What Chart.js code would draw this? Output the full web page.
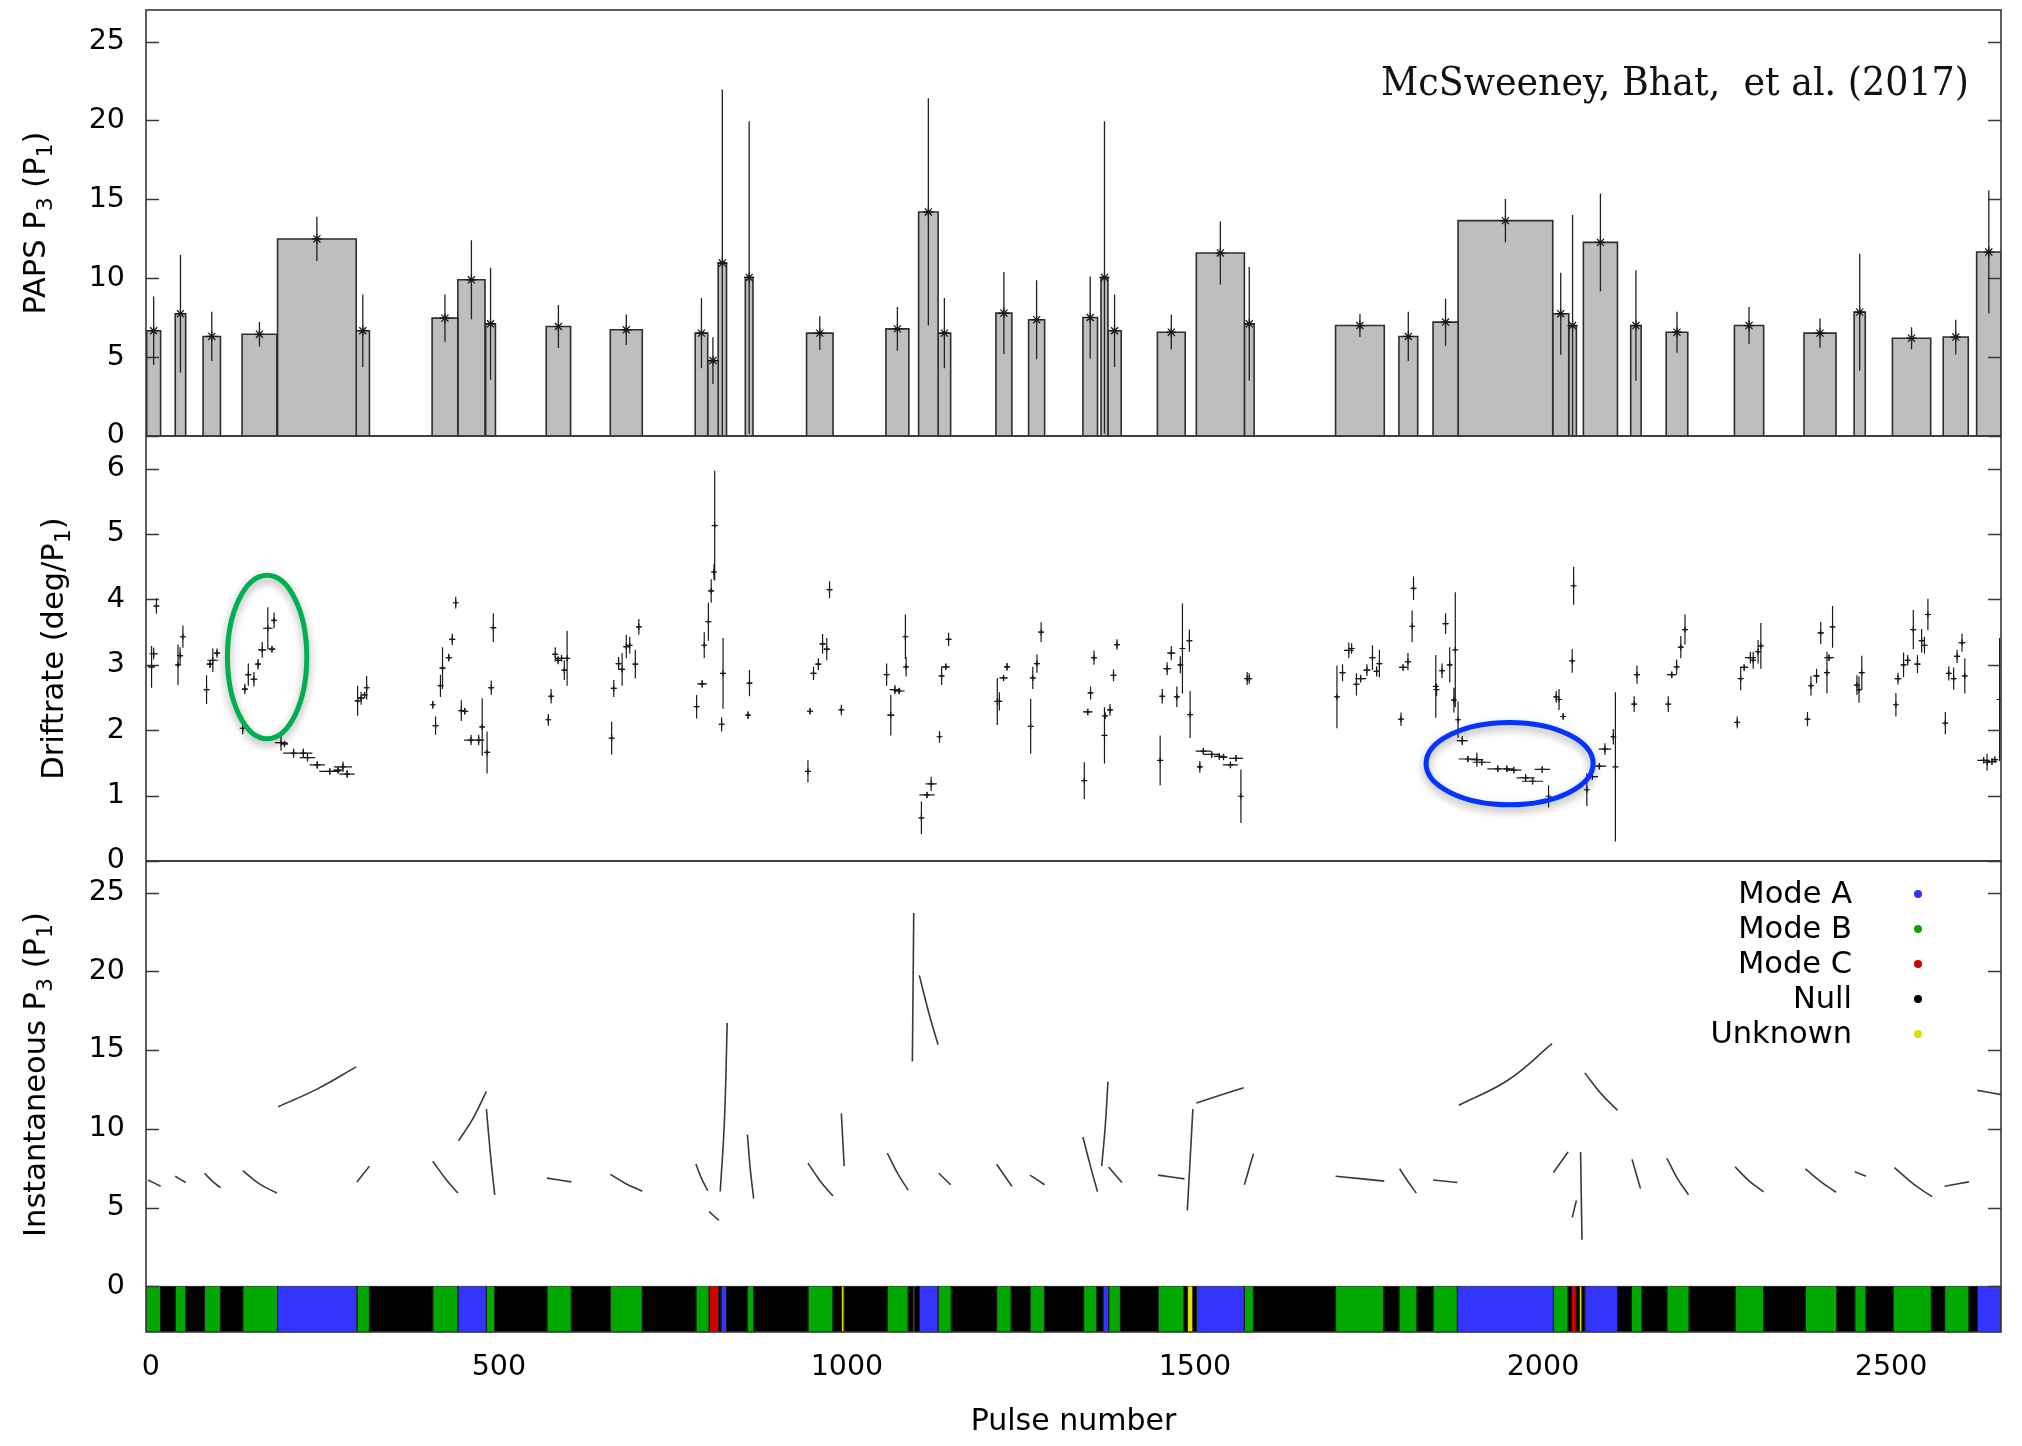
<!DOCTYPE html>
<html>
<head>
<meta charset="utf-8">
<title>PAPS P3, driftrate and instantaneous P3 versus pulse number</title>
<script src="https://cdn.jsdelivr.net/npm/chart.js@4.4.1/dist/chart.umd.min.js"></script>
<style>
  html, body { margin: 0; padding: 0; background: #ffffff; }
  #stack { position: relative; width: 2022px; height: 1446px; }
  #stack canvas { position: absolute; left: 0; top: 0; width: 2022px; height: 1446px; }
</style>
</head>
<body>
<div id="stack">
  <canvas id="papsPanel" width="2022" height="1446"></canvas>
  <canvas id="driftPanel" width="2022" height="1446"></canvas>
  <canvas id="instPanel" width="2022" height="1446"></canvas>
</div>
<script>
// ---------------- shared pulse-number axis ----------------
const pulseRange = [-7, 2658];
const pulseTicks = [0, 500, 1000, 1500, 2000, 2500];

// ---------------- PAPS P3 per stretch ----------------
const papsStart = [-6, 35, 75, 131, 182, 295, 404, 441, 481, 568, 660, 782, 800, 815, 854, 942, 1056, 1103, 1131, 1214, 1261, 1339, 1365, 1375, 1446, 1502, 1571, 1702, 1793, 1842, 1878, 2014, 2037, 2058, 2126, 2177, 2275, 2375, 2447, 2502, 2575, 2623];
const papsEnd   = [14, 50, 100, 181, 295, 314, 441, 480, 495, 603, 706, 800, 815, 827, 865, 980, 1089, 1131, 1149, 1237, 1284, 1360, 1375, 1394, 1486, 1571, 1585, 1772, 1820, 1878, 2014, 2037, 2048, 2107, 2141, 2208, 2317, 2421, 2463, 2557, 2611, 2658];
const papsP3    = [6.67, 7.75, 6.31, 6.45, 12.49, 6.67, 7.47, 9.9, 7.11, 6.94, 6.73, 6.52, 4.78, 10.96, 10.05, 6.52, 6.79, 14.2, 6.52, 7.79, 7.37, 7.51, 10.05, 6.67, 6.58, 11.6, 7.11, 7.0, 6.31, 7.22, 13.65, 7.75, 7.0, 12.27, 7.0, 6.58, 7.0, 6.52, 7.85, 6.2, 6.27, 11.66];
const papsErr   = [2.17, 3.73, 1.56, 0.78, 1.4, 2.3, 1.5, 2.5, 3.55, 1.37, 0.97, 2.22, 1.48, 11.0, 9.9, 1.07, 1.38, 7.2, 2.22, 2.6, 2.5, 2.6, 9.9, 2.3, 1.1, 2.0, 3.6, 0.73, 1.56, 1.5, 1.37, 2.6, 7.0, 3.1, 3.5, 1.3, 1.17, 0.93, 3.7, 0.7, 1.1, 3.9];
const papsTicks = [0, 5, 10, 15, 20, 25];

// ---------------- driftrate: [pulse, driftrate, driftrate error, pulse half-width] ----------------
const driftRows = [
  [1,2.97,0.32,5],[4,3.17,0.09,6],[8,3.9,0.12,4],[39,3.0,0.31,3],[42,3.14,0.13,4],[46,3.43,0.17,3],[80,2.62,0.22,3],[85,3.01,0.06,5],[89,3.07,0.18,8],[95,3.18,0.07,4],
  [132,2.03,0.09,2],[135,2.63,0.08,4],[140,2.85,0.17,4],[148,2.78,0.11,5],[154,3.01,0.08,4],[160,3.23,0.12,6],[168,3.56,0.32,7],[174,3.24,0.05,5],[177,3.68,0.12,3],
  [187,1.81,0.12,9],[192,1.79,0.05,5],[205,1.65,0.07,15],[219,1.65,0.07,13],[225,1.58,0.06,11],[239,1.47,0.06,11],[257,1.37,0.05,15],[269,1.39,0.06,7],[276,1.44,0.08,13],[282,1.33,0.06,11],
  [297,2.45,0.23,3],[302,2.49,0.1,4],[307,2.54,0.05,3],[310,2.65,0.18,3],
  [405,2.39,0.06,2],[409,2.07,0.14,4],[416,2.68,0.17,3],[419,2.95,0.32,4],[428,3.11,0.06,4],[433,3.39,0.09,4],[438,3.95,0.09,2],[446,2.3,0.16,3],[451,2.29,0.05,5],[460,1.85,0.08,10],[471,1.85,0.08,8],[476,2.05,0.44,3],[483,1.66,0.32,3],[489,2.65,0.11,4],[492,3.57,0.22,3],
  [571,2.16,0.09,2],[575,2.52,0.11,4],[581,3.16,0.11,4],[585,3.07,0.06,5],[590,3.1,0.05,10],[594,2.92,0.15,3],[598,3.1,0.42,3],
  [662,1.88,0.25,2],[665,2.64,0.13,4],[672,3.02,0.1,4],[677,2.93,0.25,4],[683,3.28,0.18,4],[688,3.3,0.13,3],[696,3.01,0.22,3],[701,3.58,0.12,3],
  [784,2.36,0.18,2],[792,2.71,0.06,7],[795,3.3,0.2,2],[801,3.66,0.29,2],[805,4.13,0.18,4],[809,4.42,0.12,3],[810,5.13,0.84,1],[820,2.09,0.11,3],[822,2.87,0.54,2],[858,2.23,0.06,3],[860,2.72,0.2,3],
  [944,1.37,0.17,2],[947,2.29,0.05,4],[952,2.87,0.1,4],[959,3.01,0.09,4],[965,3.32,0.15,4],[971,3.24,0.17,4],[975,4.15,0.13,3],[992,2.31,0.08,2],
  [1057,2.85,0.17,2],[1063,2.23,0.31,5],[1069,2.62,0.07,8],[1075,2.6,0.05,8],[1084,3.43,0.34,2],[1085,2.97,0.15,2],
  [1107,0.66,0.25,2],[1115,1.01,0.05,11],[1121,1.18,0.11,8],[1133,1.9,0.09,2],[1136,2.83,0.14,3],[1142,2.97,0.05,6],[1146,3.39,0.1,3],
  [1216,2.44,0.36,1],[1219,2.44,0.14,3],[1225,2.8,0.05,6],[1230,2.97,0.06,4],[1264,2.06,0.42,1],[1267,2.8,0.17,3],[1273,3.02,0.14,3],[1279,3.5,0.15,3],
  [1341,1.23,0.28,1],[1346,2.28,0.05,7],[1350,2.57,0.1,3],[1355,3.11,0.11,4],[1370,1.92,0.43,1],[1371,2.22,0.05,2],[1378,2.31,0.09,3],[1383,2.84,0.09,3],[1388,3.31,0.08,3],
  [1450,1.54,0.38,1],[1453,2.52,0.11,4],[1460,2.94,0.1,6],[1466,3.18,0.11,6],[1474,2.51,0.16,3],[1479,3.0,0.13,3],[1482,3.25,0.69,1],[1492,3.37,0.17,3],[1493,2.24,0.36,1],
  [1507,1.44,0.09,3],[1512,1.68,0.05,11],[1524,1.63,0.05,11],[1535,1.6,0.05,8],[1541,1.59,0.05,6],[1551,1.47,0.05,11],[1559,1.57,0.05,10],[1566,0.99,0.41,1],[1575,2.79,0.1,3],[1578,2.79,0.08,3],
  [1704,2.51,0.48,2],[1712,2.88,0.13,4],[1721,3.22,0.12,7],[1725,3.25,0.08,4],[1732,2.7,0.17,4],[1738,2.79,0.06,8],[1747,2.92,0.09,5],[1755,3.11,0.19,4],[1761,2.9,0.08,4],[1765,3.02,0.21,3],
  [1796,2.17,0.1,2],[1799,2.96,0.05,6],[1806,3.05,0.13,4],[1812,3.59,0.24,2],[1814,4.17,0.18,2],
  [1846,2.67,0.48,1],[1847,2.62,0.1,2],[1855,2.91,0.11,4],[1860,3.63,0.16,4],[1866,3.0,0.27,3],[1872,2.46,0.19,3],[1874,3.23,0.88,1],[1878,2.16,0.28,2],
  [1884,1.84,0.07,8],[1892,1.56,0.05,13],[1905,1.55,0.11,9],[1912,1.51,0.05,13],[1935,1.41,0.05,15],[1948,1.41,0.05,9],[1958,1.39,0.05,11],[1975,1.27,0.06,13],[1985,1.22,0.05,15],[1999,1.4,0.05,11],[2008,0.99,0.17,1],
  [2019,2.51,0.09,3],[2023,2.47,0.16,3],[2029,2.21,0.05,3],[2042,3.06,0.18,2],[2044,4.21,0.29,2],
  [2063,1.09,0.25,2],[2071,1.29,0.05,8],[2081,1.45,0.05,10],[2089,1.71,0.09,9],[2101,1.9,0.12,3],[2104,1.44,1.14,1],
  [2131,2.4,0.12,3],[2135,2.85,0.14,3],[2180,2.4,0.12,2],[2185,2.85,0.05,7],[2192,2.97,0.11,3],[2198,3.27,0.17,3],[2204,3.54,0.23,2],
  [2279,2.12,0.09,2],[2284,2.79,0.18,2],[2289,2.96,0.05,6],[2298,3.11,0.09,8],[2302,3.07,0.13,3],[2309,3.2,0.18,3],[2313,3.29,0.35,2],
  [2380,2.17,0.11,2],[2385,2.68,0.15,3],[2393,2.83,0.11,4],[2399,3.49,0.17,4],[2408,2.88,0.32,2],[2411,3.11,0.05,7],[2416,3.58,0.32,2],
  [2451,2.69,0.15,3],[2454,2.62,0.2,3],[2458,2.88,0.26,3],
  [2507,2.39,0.18,2],[2510,2.79,0.09,5],[2518,3.0,0.19,3],[2524,3.07,0.08,4],[2532,3.54,0.3,2],[2538,3.01,0.14,4],[2544,3.37,0.18,3],[2548,3.3,0.13,4],[2553,3.77,0.24,2],
  [2578,2.11,0.17,2],[2583,2.87,0.11,3],[2590,2.79,0.17,3],[2595,3.13,0.1,4],[2602,3.34,0.14,5],[2606,2.83,0.27,2],
  [2633,1.54,0.05,9],[2638,1.51,0.13,4],[2645,1.52,0.05,7],[2649,1.55,0.05,5],[2656,2.47,0.94,1]
];
const driftTicks = [0, 1, 2, 3, 4, 5, 6];

// ringed driftrate sequences (centre and half-extent in data units)
const driftHighlights = [
  { pulse: 167,  rate: 3.12, halfPulses: 57,  halfRate: 1.25, colour: '#00b050' },
  { pulse: 1952, rate: 1.49, halfPulses: 120, halfRate: 0.63, colour: '#0433ff' }
];

// ---------------- instantaneous P3 tracks: [pulse, P3] ----------------
const instTracks = [
  [[-4,6.75],[14,6.35]],
  [[35,6.99],[50,6.59]],
  [[77,7.18],[89,6.65],[100,6.26]],
  [[132,7.35],[156,6.5],[181,5.92]],
  [[183,11.4],[240,12.55],[295,13.93]],
  [[296,6.63],[314,7.63]],
  [[405,7.94],[423,6.85],[441,5.92]],
  [[442,9.24],[462,10.6],[482,12.37]],
  [[482,11.26],[488,8.3],[494,5.81]],
  [[569,6.87],[604,6.63]],
  [[660,7.11],[683,6.5],[706,6.04]],
  [[783,7.77],[791,6.85],[800,6.07]],
  [[802,4.74],[816,4.19]],
  [[818,6.02],[824,10.5],[828,16.71]],
  [[857,9.64],[861,7.5],[866,5.57]],
  [[944,7.82],[962,6.66],[980,5.73]],
  [[992,10.97],[996,7.63]],
  [[1058,8.46],[1073,7.15],[1088,6.11]],
  [[1096,23.7],[1094,14.27]],
  [[1104,19.74],[1118,17.3],[1131,15.33]],
  [[1132,7.18],[1149,6.45]],
  [[1215,7.75],[1237,6.35]],
  [[1263,7.06],[1284,6.45]],
  [[1339,9.48],[1350,7.6],[1360,6.0]],
  [[1366,7.63],[1371,10.1],[1375,12.99]],
  [[1376,7.58],[1395,6.59]],
  [[1447,7.06],[1485,6.82]],
  [[1489,4.81],[1493,8.0],[1497,11.26]],
  [[1502,11.64],[1570,12.61]],
  [[1571,6.45],[1584,8.41]],
  [[1702,6.99],[1772,6.68]],
  [[1794,7.46],[1806,6.65],[1818,5.92]],
  [[1842,6.75],[1877,6.59]],
  [[1879,11.49],[1950,13.1],[2013,15.4]],
  [[2015,7.23],[2036,8.53]],
  [[2042,4.38],[2048,5.45]],
  [[2054,8.53],[2056,2.96]],
  [[2060,13.55],[2083,12.25],[2107,11.18]],
  [[2128,8.06],[2140,6.21]],
  [[2178,8.13],[2193,6.85],[2209,5.81]],
  [[2276,7.58],[2296,6.7],[2317,6.0]],
  [[2377,7.46],[2399,6.65],[2421,5.97]],
  [[2448,7.27],[2464,6.99]],
  [[2505,7.54],[2532,6.5],[2559,5.69]],
  [[2577,6.35],[2612,6.63]],
  [[2624,12.44],[2659,12.16]]
];
const instTicks = [0, 5, 10, 15, 20, 25];

// ---------------- emission mode per pulse range: [mode, first pulse, last pulse] ----------------
const modeRuns = [
  ['B',-7,14],['N',14,35],['B',35,50],['N',50,77],['B',77,100],['N',100,132],['B',132,182],['A',182,296],['B',296,314],['N',314,405],
  ['B',405,441],['A',441,482],['B',482,494],['N',494,569],['B',569,604],['N',604,660],['B',660,706],['N',706,783],['B',783,802],['C',802,816],
  ['N',816,819],['A',819,827],['N',827,857],['B',857,866],['N',866,944],['B',944,980],['N',980,992],['U',992,996],['N',996,1058],['B',1058,1088],
  ['N',1088,1095],['U',1095,1097],['N',1097,1104],['A',1104,1131],['B',1131,1150],['N',1150,1215],['B',1215,1236],['N',1236,1263],['B',1263,1284],['N',1284,1340],
  ['B',1340,1359],['N',1359,1368],['A',1368,1376],['B',1376,1393],['N',1393,1447],['B',1447,1484],['N',1484,1489],['U',1489,1497],['N',1497,1502],['A',1502,1571],
  ['B',1571,1584],['N',1584,1702],['B',1702,1771],['N',1771,1793],['B',1793,1819],['N',1819,1842],['B',1842,1877],['A',1877,2015],['B',2015,2036],['N',2036,2041],
  ['C',2041,2048],['N',2048,2052],['U',2052,2056],['N',2056,2060],['A',2060,2107],['N',2107,2127],['B',2127,2142],['N',2142,2178],['B',2178,2210],['N',2210,2276],
  ['B',2276,2317],['N',2317,2377],['B',2377,2422],['N',2422,2448],['B',2448,2464],['N',2464,2503],['B',2503,2558],['N',2558,2577],['B',2577,2612],['N',2612,2624],
  ['A',2624,2658]
];
const modeKeys  = ['A', 'B', 'C', 'N', 'U'];
const modeNames = ['Mode A', 'Mode B', 'Mode C', 'Null', 'Unknown'];

// ---------------- styling ----------------
const modeColour = { A: '#3434ff', B: '#00a800', C: '#d00000', N: '#000000', U: '#e0e000' };
const FONT = '"DejaVu Sans", "Noto Sans", sans-serif';
const TICK_SIZE = 28.5, TITLE_SIZE = 30.5, KEY_SIZE = 30.5;
Chart.defaults.font.family = FONT;
Chart.defaults.font.size = TICK_SIZE;
Chart.defaults.color = '#000000';

// Panel boundaries in canvas pixels
const FRAME = { left: 146, right: 2001, top: 10, cut1: 436, cut2: 861, bottom: 1332, height: 1446, width: 2022 };

// ---------------- plugins ----------------
// gnuplot-like frame with inward, mirrored y tics
const panelFrame = {
  id: 'panelFrame',
  afterDatasetsDraw(chart) {
    const { ctx, chartArea: a } = chart;
    const y = chart.scales.y;
    ctx.save();
    ctx.strokeStyle = '#383838';
    ctx.lineWidth = 1.6;
    ctx.strokeRect(a.left, a.top, a.right - a.left, a.bottom - a.top);
    ctx.lineWidth = 1.4;
    ctx.beginPath();
    y.ticks.forEach(t => {
      const py = Math.round(y.getPixelForValue(t.value)) + 0.5;
      ctx.moveTo(a.left, py); ctx.lineTo(a.left + 13, py);
      ctx.moveTo(a.right, py); ctx.lineTo(a.right - 13, py);
    });
    ctx.stroke();
    ctx.restore();
  }
};

// error bars read from the dataset's yErr / xErr arrays
const errorBars = {
  id: 'errorBars',
  afterDatasetsDraw(chart) {
    const { ctx, chartArea: a, scales: { x, y } } = chart;
    ctx.save();
    ctx.beginPath();
    ctx.rect(a.left, a.top, a.right - a.left, a.bottom - a.top);
    ctx.clip();
    chart.data.datasets.forEach(ds => {
      if (!ds.yErr && !ds.xErr) return;
      ctx.strokeStyle = ds.errColour || '#1a1a1a';
      ctx.lineWidth = ds.errWidth || 1.2;
      ctx.beginPath();
      ds.data.forEach((p, i) => {
        const px = x.getPixelForValue(p.x);
        const py = y.getPixelForValue(p.y);
        if (ds.yErr) {
          ctx.moveTo(px, y.getPixelForValue(p.y - ds.yErr[i]));
          ctx.lineTo(px, y.getPixelForValue(p.y + ds.yErr[i]));
        }
        if (ds.xErr) {
          ctx.moveTo(x.getPixelForValue(p.x - ds.xErr[i]), py);
          ctx.lineTo(x.getPixelForValue(p.x + ds.xErr[i]), py);
        }
      });
      ctx.stroke();
    });
    ctx.restore();
  }
};

// rotated y-axis title with true subscripts
const sideTitle = {
  id: 'sideTitle',
  afterDraw(chart, args, opts) {
    if (!opts.parts) return;
    const { ctx, chartArea: a } = chart;
    const size = TITLE_SIZE, subSize = 22;
    ctx.save();
    ctx.translate(opts.x, (a.top + a.bottom) / 2 + (opts.shift || 0));
    ctx.rotate(-Math.PI / 2);
    ctx.fillStyle = '#000';
    ctx.textBaseline = 'alphabetic';
    ctx.textAlign = 'left';
    const widths = opts.parts.map(([txt, sub]) => {
      ctx.font = (sub ? subSize : size) + 'px ' + FONT;
      return ctx.measureText(txt).width;
    });
    let cx = -widths.reduce((s, w) => s + w, 0) / 2;
    const base = size * 0.36;
    opts.parts.forEach(([txt, sub], i) => {
      ctx.font = (sub ? subSize : size) + 'px ' + FONT;
      ctx.fillText(txt, cx, base + (sub ? 7 : 0));
      cx += widths[i];
    });
    ctx.restore();
  }
};

// citation line in the upper panel
const citation = {
  id: 'citation',
  afterDraw(chart, args, opts) {
    if (!opts.text) return;
    const { ctx, chartArea: a } = chart;
    ctx.save();
    ctx.font = '39px "DejaVu Serif", "Liberation Serif", serif';
    ctx.fillStyle = '#111';
    ctx.textAlign = 'right';
    ctx.textBaseline = 'alphabetic';
    ctx.fillText(opts.text, a.right - 32, a.top + 85, 588);
    ctx.restore();
  }
};

// rings drawn around sequences in data coordinates
const rings = {
  id: 'rings',
  afterDatasetsDraw(chart, args, opts) {
    if (!opts.items) return;
    const { ctx, scales: { x, y } } = chart;
    ctx.save();
    opts.items.forEach(r => {
      const cx = x.getPixelForValue(r.pulse);
      const cy = y.getPixelForValue(r.rate);
      const rx = Math.abs(x.getPixelForValue(r.pulse + r.halfPulses) - cx);
      const ry = Math.abs(y.getPixelForValue(r.rate + r.halfRate) - cy);
      ctx.shadowColor = 'rgba(0,0,0,0.35)';
      ctx.shadowBlur = 9;
      ctx.shadowOffsetY = 4;
      ctx.strokeStyle = r.colour;
      ctx.lineWidth = 5;
      ctx.beginPath();
      ctx.ellipse(cx, cy, rx, ry, 0, 0, Math.PI * 2);
      ctx.stroke();
    });
    ctx.restore();
  }
};

// key for the mode bar (labels right-aligned, coloured dots to the right)
const modeKey = {
  id: 'modeKey',
  afterDraw(chart) {
    const { ctx, chartArea: a } = chart;
    ctx.save();
    ctx.font = KEY_SIZE + 'px ' + FONT;
    ctx.textAlign = 'right';
    ctx.textBaseline = 'middle';
    modeNames.forEach((name, i) => {
      const yy = a.top + 33 + i * 35;
      ctx.fillStyle = '#000';
      ctx.fillText(name, a.right - 149, yy + 1);
      ctx.fillStyle = modeColour[modeKeys[i]];
      ctx.beginPath();
      ctx.arc(a.right - 83, yy, 4, 0, Math.PI * 2);
      ctx.fill();
    });
    ctx.restore();
  }
};

// ---------------- scale builders ----------------
function pulseScale(show) {
  return {
    type: 'linear', min: pulseRange[0], max: pulseRange[1], display: show,
    grid: { display: false, drawTicks: false }, border: { display: false },
    afterBuildTicks: s => { s.ticks = pulseTicks.map(v => ({ value: v })); },
    ticks: { padding: 18, maxRotation: 0, autoSkip: false, font: { size: TICK_SIZE }, callback: v => String(v) },
    title: { display: show, text: 'Pulse number', font: { size: 30 }, padding: { top: 0, bottom: 6 } },
    afterFit: s => {
      if (show) s.height = FRAME.height - FRAME.bottom;
      s.paddingLeft = 0; s.paddingRight = 0;
    }
  };
}
function valueScale(min, max, tickValues) {
  return {
    type: 'linear', position: 'left', min, max,
    grid: { display: false, drawTicks: false }, border: { display: false },
    afterBuildTicks: s => { s.ticks = tickValues.map(v => ({ value: v })); },
    ticks: { padding: 21, font: { size: TICK_SIZE }, callback: v => String(v) },
    afterFit: s => { s.width = FRAME.left; s.paddingTop = 0; s.paddingBottom = 0; }
  };
}
function baseOptions(top, bottomPad) {
  return {
    responsive: false, animation: false, devicePixelRatio: 1, events: [],
    layout: { padding: { left: 0, right: FRAME.width - FRAME.right, top, bottom: bottomPad } },
    elements: { point: { radius: 0 } },
    plugins: { legend: { display: false }, tooltip: { enabled: false } }
  };
}

// ---------------- panel 1: PAPS P3 ----------------
const papsBarSets = papsP3.map((v, i) => ({
  data: [{ x: papsStart[i], y: 0 }, { x: papsStart[i], y: v }, { x: papsEnd[i], y: v }, { x: papsEnd[i], y: 0 }],
  showLine: true, fill: 'origin', backgroundColor: '#bebebe', borderColor: '#2e2e2e', borderWidth: 1.6,
  pointRadius: 0, order: 2
}));
const papsStars = {
  data: papsP3.map((v, i) => ({ x: (papsStart[i] + papsEnd[i]) / 2, y: v })),
  showLine: false, pointStyle: 'star', pointRadius: 5, borderColor: '#111', borderWidth: 1.2,
  yErr: papsErr, errWidth: 1.3, errColour: '#222', order: 0
};
const opts1 = baseOptions(FRAME.top, FRAME.height - FRAME.cut1);
opts1.scales = { x: pulseScale(false), y: valueScale(0, 27, papsTicks) };
opts1.plugins.sideTitle = { parts: [['PAPS P', false], ['3', true], [' (P', false], ['1', true], [')', false]], x: 34 };
opts1.plugins.citation = { text: 'McSweeney, Bhat,  et al. (2017)' };
new Chart(document.getElementById('papsPanel'), {
  type: 'line',
  data: { datasets: [papsStars, ...papsBarSets] },
  options: opts1,
  plugins: [panelFrame, errorBars, sideTitle, citation]
});

// ---------------- panel 2: driftrate ----------------
const driftSet = {
  data: driftRows.map(r => ({ x: r[0], y: r[1] })),
  showLine: false, pointStyle: 'cross', pointRadius: 3, borderColor: '#111', borderWidth: 1.2,
  yErr: driftRows.map(r => r[2]), xErr: driftRows.map(r => r[3]), errWidth: 1.2
};
const opts2 = baseOptions(FRAME.cut1, FRAME.height - FRAME.cut2);
opts2.scales = { x: pulseScale(false), y: valueScale(0, 6.5, driftTicks) };
opts2.plugins.sideTitle = { parts: [['Driftrate (deg/P', false], ['1', true], [')', false]], x: 52 };
opts2.plugins.rings = { items: driftHighlights };
new Chart(document.getElementById('driftPanel'), {
  type: 'line',
  data: { datasets: [driftSet] },
  options: opts2,
  plugins: [panelFrame, errorBars, rings, sideTitle]
});

// ---------------- panel 3: instantaneous P3 and mode bar ----------------
const instMin = -2.9;
const trackSets = instTracks.map(t => ({
  data: t.map(([x, y]) => ({ x, y })),
  showLine: true, tension: 0.4, borderColor: '#3a3a3a', borderWidth: 1.6, pointRadius: 0, fill: false
}));
const modeSets = modeRuns.map(([m, a, b]) => ({
  data: [{ x: a, y: instMin }, { x: a, y: 0 }, { x: b, y: 0 }, { x: b, y: instMin }],
  showLine: true, fill: 'start', backgroundColor: modeColour[m],
  borderColor: 'rgba(20,20,20,0.55)', borderWidth: 1, pointRadius: 0
}));
const opts3 = baseOptions(FRAME.cut2, 0);
opts3.scales = { x: pulseScale(true), y: valueScale(instMin, 27, instTicks) };
opts3.plugins.sideTitle = { parts: [['Instantaneous P', false], ['3', true], [' (P', false], ['1', true], [')', false]], x: 34, shift: -22 };
new Chart(document.getElementById('instPanel'), {
  type: 'line',
  data: { datasets: [...trackSets, ...modeSets] },
  options: opts3,
  plugins: [panelFrame, sideTitle, modeKey]
});
</script>
</body>
</html>
